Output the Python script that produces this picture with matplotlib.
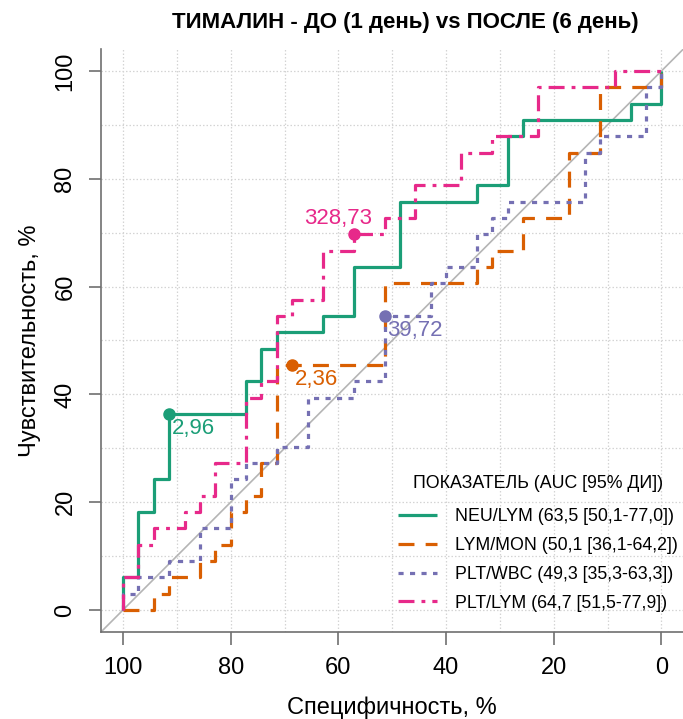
import matplotlib
matplotlib.use('Agg')
import matplotlib.pyplot as plt

plt.rcParams['font.family'] = ['Liberation Sans Narrow', 'Liberation Sans', 'DejaVu Sans']

# ROC staircases, specificity (%) / sensitivity (%) vertices
neu_lym_spec = [100, 100, 97.14, 97.14, 94.29, 94.29, 91.43, 91.43, 77.14, 77.14, 74.29, 74.29,
                71.43, 71.43, 62.86, 62.86, 57.14, 57.14, 48.57, 48.57, 34.29, 34.29, 28.57, 28.57,
                25.71, 25.71, 5.71, 5.71, 0, 0]
neu_lym_sens = [0, 6.06, 6.06, 18.18, 18.18, 24.24, 24.24, 36.36, 36.36, 42.42, 42.42, 48.48,
                48.48, 51.52, 51.52, 54.55, 54.55, 63.64, 63.64, 75.76, 75.76, 78.79, 78.79, 87.88,
                87.88, 90.91, 90.91, 93.94, 93.94, 100]

lym_mon_spec = [100, 94.29, 94.29, 91.43, 91.43, 85.71, 85.71, 82.86, 82.86, 80, 80, 77.14, 77.14,
                74.29, 74.29, 71.43, 71.43, 51.43, 51.43, 34.29, 34.29, 31.43, 31.43, 25.71, 25.71,
                17.14, 17.14, 11.43, 11.43, 0, 0]
lym_mon_sens = [0, 0, 3.03, 3.03, 6.06, 6.06, 9.09, 9.09, 12.12, 12.12, 18.18, 18.18, 21.21,
                21.21, 27.27, 27.27, 45.45, 45.45, 60.61, 60.61, 63.64, 63.64, 66.67, 66.67, 72.73,
                72.73, 84.85, 84.85, 96.97, 96.97, 100]

plt_wbc_spec = [100, 100, 97.14, 97.14, 91.43, 91.43, 85.71, 85.71, 80, 80, 77.14, 77.14, 71.43,
                71.43, 65.71, 65.71, 57.14, 57.14, 51.43, 51.43, 42.86, 42.86, 40, 40, 34.29, 34.29,
                31.43, 31.43, 28.57, 28.57, 14.29, 14.29, 11.43, 11.43, 2.86, 2.86, 0, 0]
plt_wbc_sens = [0, 3.03, 3.03, 6.06, 6.06, 9.09, 9.09, 15.15, 15.15, 24.24, 24.24, 27.27, 27.27,
                30.30, 30.30, 39.39, 39.39, 42.42, 42.42, 54.55, 54.55, 60.61, 60.61, 63.64, 63.64,
                69.70, 69.70, 72.73, 72.73, 75.76, 75.76, 84.85, 84.85, 87.88, 87.88, 96.97, 96.97, 100]

plt_lym_spec = [100, 100, 97.14, 97.14, 94.29, 94.29, 88.57, 88.57, 85.71, 85.71, 82.86, 82.86,
                77.14, 77.14, 74.29, 74.29, 71.43, 71.43, 68.57, 68.57, 62.86, 62.86, 57.14, 57.14,
                51.43, 51.43, 45.71, 45.71, 37.14, 37.14, 31.43, 31.43, 22.86, 22.86, 8.57, 8.57, 0]
plt_lym_sens = [0, 6.06, 6.06, 12.12, 12.12, 15.15, 15.15, 18.18, 18.18, 21.21, 21.21, 27.27,
                27.27, 39.39, 39.39, 42.42, 42.42, 54.55, 54.55, 57.58, 57.58, 66.67, 66.67, 69.70,
                69.70, 72.73, 72.73, 78.79, 78.79, 84.85, 84.85, 87.88, 87.88, 96.97, 96.97, 100, 100]

labels = ['NEU/LYM (63,5 [50,1-77,0])', 'LYM/MON (50,1 [36,1-64,2])',
          'PLT/WBC (49,3 [35,3-63,3])', 'PLT/LYM (64,7 [51,5-77,9])']
colors = ['#1B9E77', '#D95F02', '#7570B3', '#E7298A']

# optimal cut-off points (spec, sens) and threshold labels
best_spec = [91.43, 68.57, 51.43, 57.14]
best_sens = [36.36, 45.45, 54.55, 69.70]
best_text = ['2,96', '2,36', '39,72', '328,73']

fig = plt.figure(figsize=(6.83, 7.19), dpi=100)
ax = fig.add_axes([0.1485, 0.1216, 0.8515, 0.8097])

ticks = list(range(0, 101, 20))
for g in range(0, 101, 10):
    ax.axvline(g, color='#d4d4d4', lw=0.9, ls=(0, (1.2, 1.6)), zorder=0)
    ax.axhline(g, color='#d4d4d4', lw=0.9, ls=(0, (1.2, 1.6)), zorder=0)

ax.plot([104, -4], [-4, 104], color='#b5b5b5', lw=1.2, zorder=1)

styles = ['-', (0, (5, 3.5)), (0, (1.6, 2.0)), (0, (5, 2.2, 1.2, 2.2))]
series = [(neu_lym_spec, neu_lym_sens), (lym_mon_spec, lym_mon_sens),
          (plt_wbc_spec, plt_wbc_sens), (plt_lym_spec, plt_lym_sens)]
for (xs, ys), c, ls, lab in zip(series, colors, styles, labels):
    ax.plot(xs, ys, color=c, lw=2.3, ls=ls, label=lab, zorder=3,
            solid_capstyle='butt', dash_capstyle='butt')

offsets = [(2, -3), (2, -3), (2, -3), (13, 4)]
aligns = [('left', 'top'), ('left', 'top'), ('left', 'top'), ('right', 'bottom')]
for i in range(4):
    ax.plot(best_spec[i], best_sens[i], 'o', color=colors[i], ms=8, zorder=4)
    ax.annotate(best_text[i], (best_spec[i], best_sens[i]), xytext=offsets[i],
                textcoords='offset points', ha=aligns[i][0], va=aligns[i][1],
                color=colors[i], fontsize=16, zorder=5)

ax.set_xlim(104, -4)
ax.set_ylim(-4, 104)
ax.set_xticks(ticks)
ax.set_yticks(ticks)
ax.tick_params(axis='both', length=9, width=1.2, color='#707070', labelsize=17, pad=9)
for lbl in ax.get_yticklabels():
    lbl.set_rotation(90)
    lbl.set_va('center')
for s in ['top', 'right']:
    ax.spines[s].set_visible(False)
for s in ['left', 'bottom']:
    ax.spines[s].set_color('#707070')
    ax.spines[s].set_linewidth(1.2)

ax.set_xlabel('Специфичность, %', fontsize=17, labelpad=13)
ax.set_ylabel('Чувствительность, %', fontsize=17, labelpad=10)
fig.suptitle('ТИМАЛИН - ДО (1 день) vs ПОСЛЕ (6 день)', fontsize=16, fontweight='bold',
             x=0.593, y=0.969, va='center')

leg = ax.legend(loc='lower right', bbox_to_anchor=(1.003, 0.022), borderaxespad=0,
                frameon=False, title='ПОКАЗАТЕЛЬ (AUC [95% ДИ])', fontsize=12.8,
                title_fontsize=12.8, handlelength=2.2, handletextpad=1.0, labelspacing=0.66)
leg._legend_box.sep = 12

fig.savefig('out.png', dpi=100)
